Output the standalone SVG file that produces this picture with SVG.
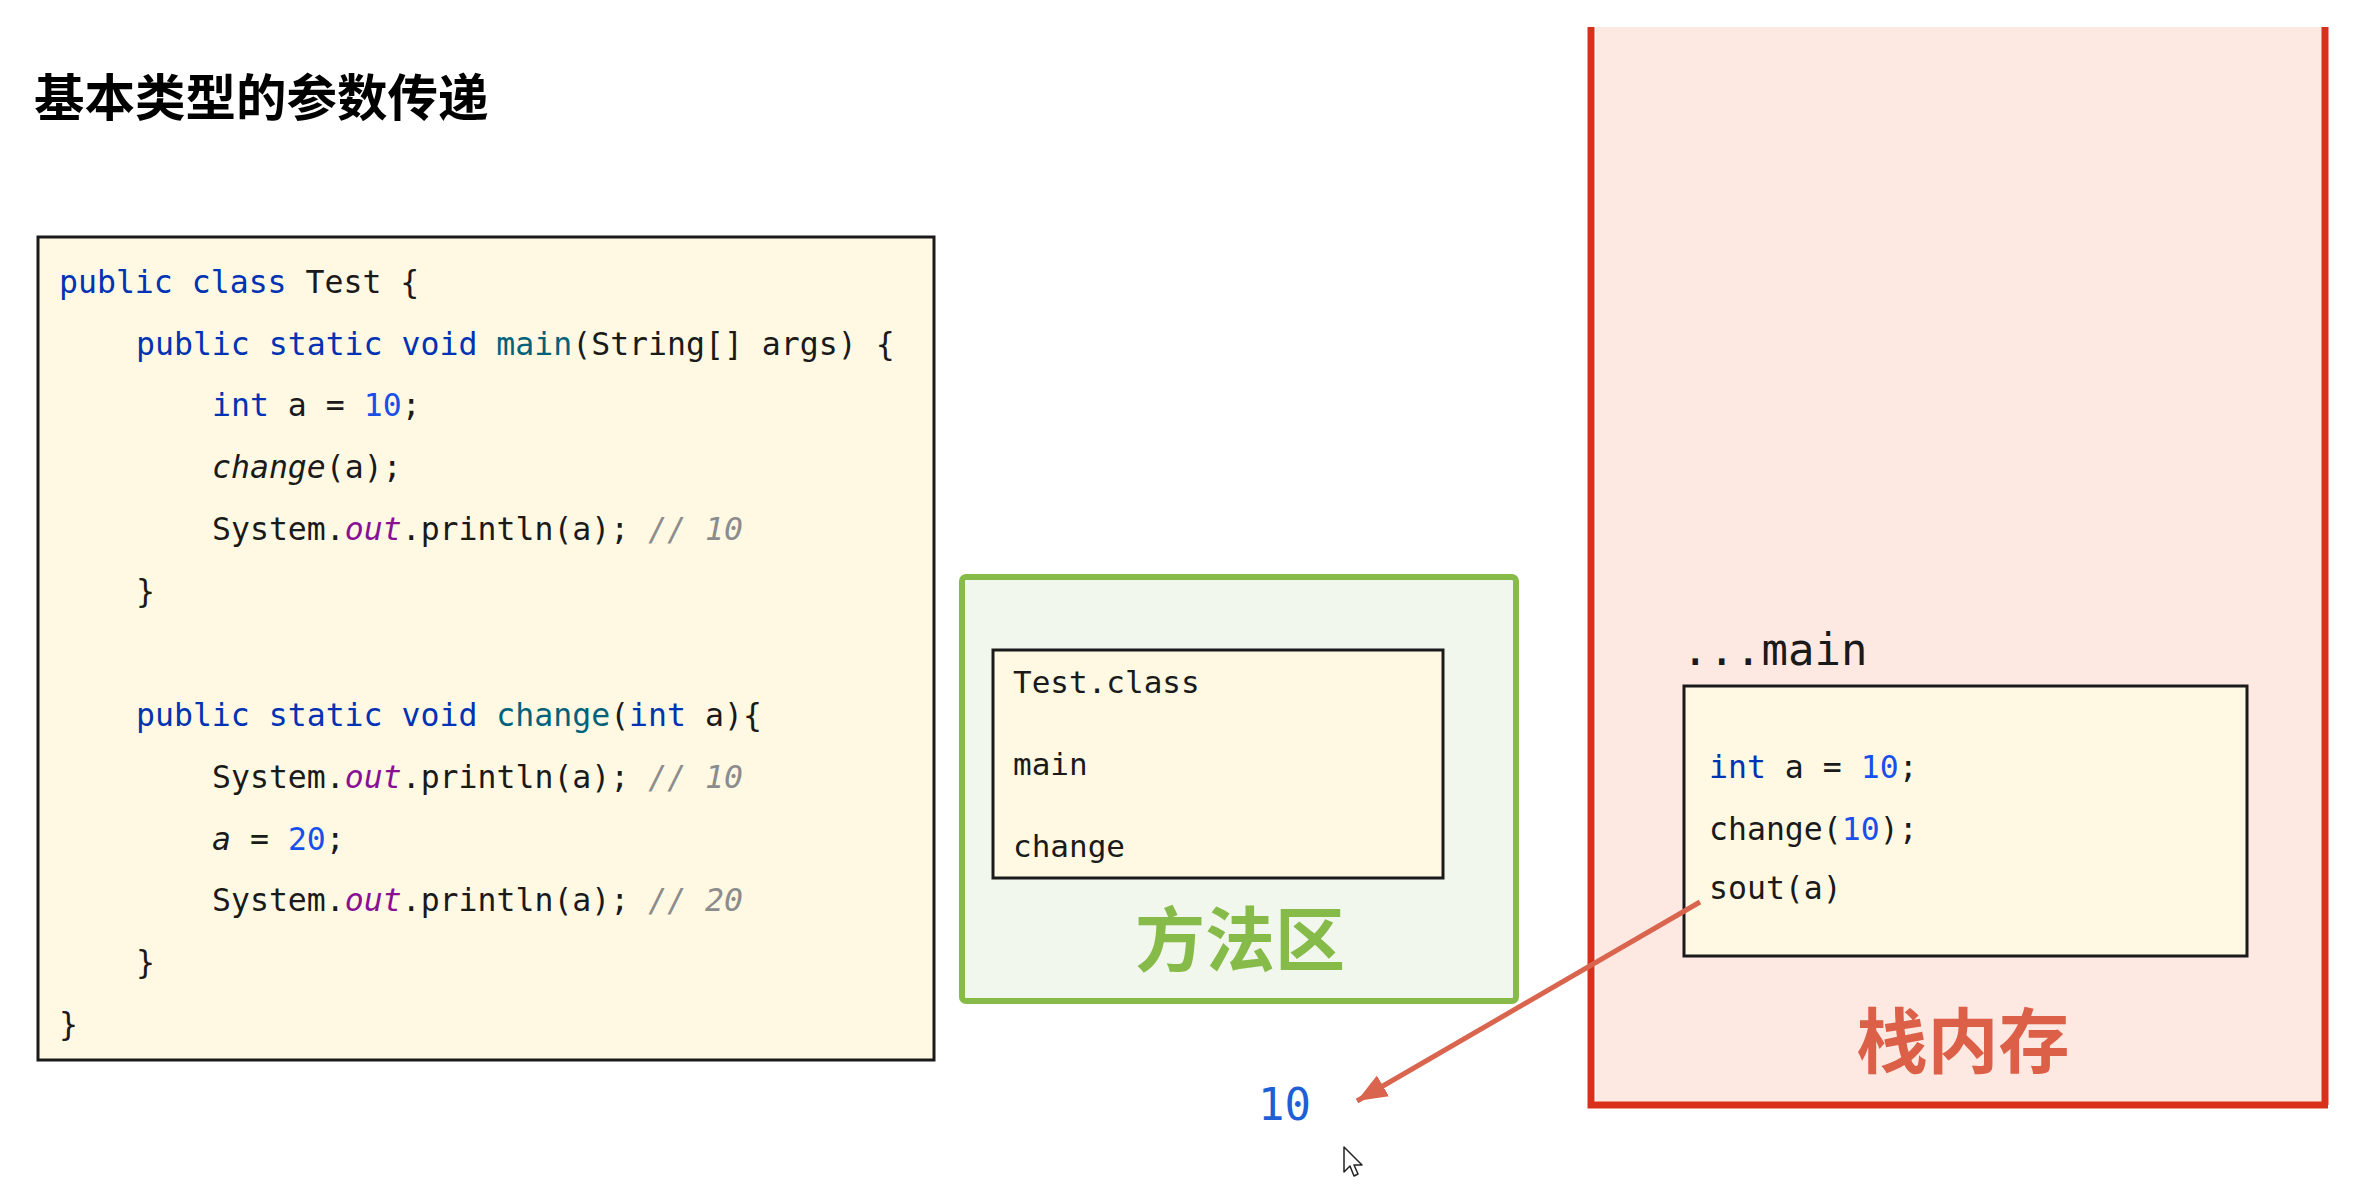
<svg xmlns="http://www.w3.org/2000/svg" width="2380" height="1190" viewBox="0 0 2380 1190">
<defs>
<style>
.code{font-family:"DejaVu Sans Mono","Liberation Mono",monospace;font-size:31.5px;fill:#1a1a1a;white-space:pre}
.kw{fill:#0033b3}
.num{fill:#1750eb}
.fn{fill:#00627a}
.st{fill:#871094;font-style:italic}
.cm{fill:#8c8c8c;font-style:italic}
.it{font-style:italic}
.mono{font-family:"DejaVu Sans Mono","Liberation Mono",monospace;fill:#1a1a1a;white-space:pre}
.cjk{font-family:"Noto Sans CJK SC","Noto Sans",sans-serif;font-weight:bold}
.box{fill:#fff9e3;stroke:#1a1a1a;stroke-width:3}
</style>
<marker id="ah" markerUnits="userSpaceOnUse" markerWidth="32" markerHeight="26" refX="30" refY="12" orient="auto">
<path d="M0,0 L30,12 L0,24 Z" fill="#d9654f"/>
</marker>
</defs>
<rect width="2380" height="1190" fill="#ffffff"/>

<g id="title">
<text x="34" y="116" class="cjk" font-size="50.5" fill="#000">基本类型的参数传递</text>
</g>

<g id="code">
<rect x="38" y="237" width="896" height="823" class="box" stroke-width="2"/>
<text class="code" x="59" y="293"><tspan class="kw">public class</tspan> Test {</text>
<text class="code" x="136" y="355"><tspan class="kw">public static void</tspan> <tspan class="fn">main</tspan>(String[] args) {</text>
<text class="code" x="212" y="416"><tspan class="kw">int</tspan> a = <tspan class="num">10</tspan>;</text>
<text class="code" x="212" y="478"><tspan class="it">change</tspan>(a);</text>
<text class="code" x="212" y="540">System.<tspan class="st">out</tspan>.println(a); <tspan class="cm">// 10</tspan></text>
<text class="code" x="136" y="602">}</text>
<text class="code" x="136" y="726"><tspan class="kw">public static void</tspan> <tspan class="fn">change</tspan>(<tspan class="kw">int</tspan> a){</text>
<text class="code" x="212" y="788">System.<tspan class="st">out</tspan>.println(a); <tspan class="cm">// 10</tspan></text>
<text class="code" x="212" y="850"><tspan class="it">a</tspan> = <tspan class="num">20</tspan>;</text>
<text class="code" x="212" y="911">System.<tspan class="st">out</tspan>.println(a); <tspan class="cm">// 20</tspan></text>
<text class="code" x="136" y="973">}</text>
<text class="code" x="59" y="1035">}</text>
</g>

<g id="method-area">
<rect x="962" y="577" width="554" height="424" rx="4" fill="#f1f7ec" stroke="#86bb4a" stroke-width="6"/>
<rect x="993" y="650" width="450" height="228" class="box"/>
<text class="mono" x="1013" y="693" font-size="31">Test.class</text>
<text class="mono" x="1013" y="775" font-size="31">main</text>
<text class="mono" x="1013" y="857" font-size="31">change</text>
<text class="cjk" x="1240" y="966" font-size="70" fill="#86bb4a" text-anchor="middle">方法区</text>
</g>

<g id="stack">
<rect x="1596" y="27" width="726" height="1075" fill="#fde8e2"/>
<path d="M1591,27 L1591,1105 L2328,1105 M2325,1105 L2325,27" fill="none" stroke="#d9301c" stroke-width="7"/>
<text class="mono" x="1682" y="665" font-size="44">...main</text>
<rect x="1684" y="686" width="563" height="270" class="box"/>
<text class="code" x="1709" y="778" font-size="30.5"><tspan class="kw">int</tspan> a = <tspan class="num">10</tspan>;</text>
<text class="code" x="1709" y="840" font-size="30.5">change(<tspan class="num">10</tspan>);</text>
<text class="code" x="1709" y="899" font-size="30.5">sout(a)</text>
<text class="cjk" x="1963" y="1067" font-size="71" fill="#dc5f48" text-anchor="middle">栈内存</text>
</g>

<g id="output">
<text class="mono" x="1258" y="1120" font-size="44" style="fill:#1f5fd6">10</text>
</g>

<g id="connectors">
<line x1="1700" y1="902" x2="1357" y2="1101" stroke="#d9654f" stroke-width="5" marker-end="url(#ah)"/>
</g>

<g id="cursor">
<path d="M1344,1147 L1344,1172 L1350,1166 L1354,1176 L1358,1174 L1354,1165 L1362,1165 Z" fill="#fff" stroke="#222" stroke-width="1.5" stroke-linejoin="round"/>
</g>
</svg>
